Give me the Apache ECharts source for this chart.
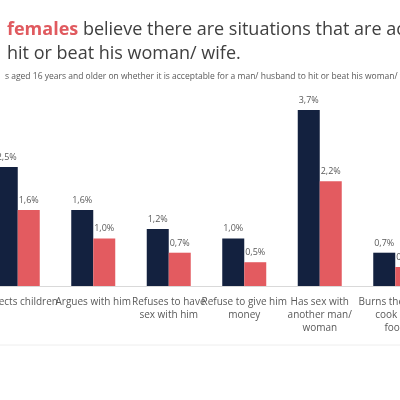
<!DOCTYPE html>
<html>
<head>
<meta charset="utf-8">
<script src="https://cdn.jsdelivr.net/npm/echarts@6/dist/echarts.min.js"></script>
<style>html,body{margin:0;padding:0;background:#fff}#c{width:400px;height:400px}</style>
</head>
<body>
<div id="c"></div>
<script>
// 数据
var categories = ['Neglects children', 'Argues with him', 'Refuses to have\nsex with him', 'Refuse to give him\nmoney', 'Has sex with\nanother man/\nwoman', 'Burns the food/\ncook the\nfood'];
var navyValues = [2.5, 1.6, 1.2, 1.0, 3.7, 0.7];
var redValues = [1.6, 1.0, 0.7, 0.5, 2.2, 0.4];

var chart = echarts.init(document.getElementById('c'));
var labelStyle = {show: true, position: 'top', color: '#595959', fontSize: 9, fontFamily: 'Open Sans',
  formatter: function (p) { return p.value.toFixed(1).replace('.', ',') + '%'; }};

chart.setOption({
  animation: false,
  title: [{
    text: '{r|females} believe there are situations that are acceptable\nhit or beat his woman/ wife.',
    left: 2, top: 13,
    textStyle: {fontSize: 18, fontWeight: 'normal', color: '#404040', fontFamily: 'Open Sans', lineHeight: 24,
      rich: {r: {fontSize: 18, fontWeight: 'bold', color: '#e05a5f', fontFamily: 'Open Sans'}}}
  }, {
    text: 's aged 16 years and older on whether it is acceptable for a man/ husband to hit or beat his woman/ wife under certain',
    left: 0, top: 67,
    textStyle: {fontSize: 8.5, fontWeight: 'normal', color: '#595959', fontFamily: 'Open Sans'}
  }],
  graphic: [{type: 'line', shape: {x1: 0, y1: 345, x2: 400, y2: 345}, style: {stroke: '#eeeeee', lineWidth: 1}}],
  grid: {left: -20, right: -33, top: 110, bottom: 114, outerBoundsMode: 'none', containLabel: false},
  xAxis: {
    type: 'category', data: categories,
    axisLine: {lineStyle: {color: '#d9d9d9'}}, axisTick: {show: false},
    axisLabel: {color: '#595959', fontSize: 10, fontFamily: 'Open Sans', interval: 0, lineHeight: 13, margin: 10}
  },
  yAxis: {type: 'value', min: 0, max: 3.7, show: false},
  series: [
    {type: 'bar', data: navyValues, barWidth: 22, barGap: '0%', itemStyle: {color: '#13213f'}, label: labelStyle},
    {type: 'bar', data: redValues, barWidth: 22, itemStyle: {color: '#e35b60'}, label: labelStyle}
  ]
});
</script>
</body>
</html>
